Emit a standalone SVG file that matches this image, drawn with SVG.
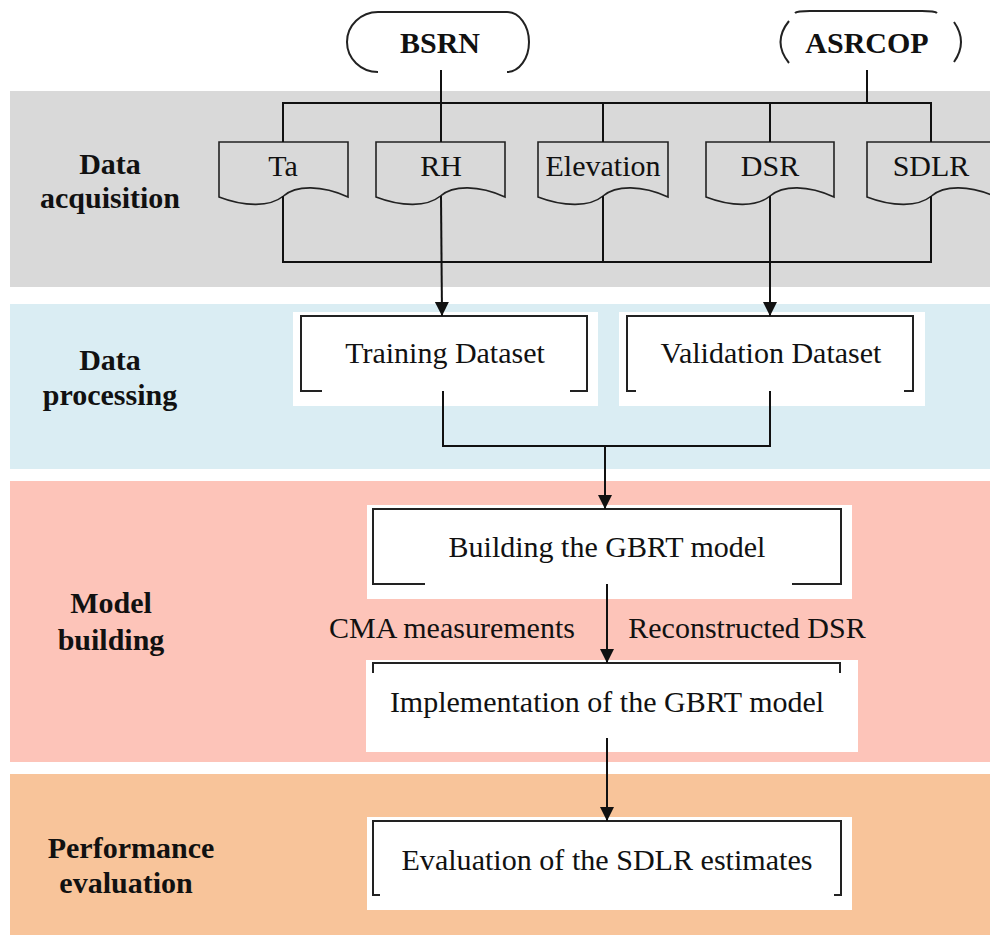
<svg xmlns="http://www.w3.org/2000/svg" width="990" height="935" viewBox="0 0 990 935">
<style>
.t{font-family:"Liberation Serif","Times New Roman",serif;font-size:30px;fill:#111;text-anchor:middle}
.b{font-weight:bold}
.doc{fill:#d9d9d9;stroke:#222;stroke-width:1.6}
.br{fill:none;stroke:#222;stroke-width:2}
.ln{fill:none;stroke:#111;stroke-width:2}
.wh{fill:#fff}
</style>
<defs>
<marker id="ah" markerUnits="userSpaceOnUse" markerWidth="14" markerHeight="16" refX="14" refY="7" orient="auto">
<path d="M0,0 L14,7 L0,14 Z" fill="#111"/>
</marker>
</defs>
<rect width="990" height="935" fill="#fff"/>
<g id="bands">
<rect x="10" y="91" width="980" height="196" fill="#d9d9d9"/>
<rect x="10" y="304" width="980" height="165" fill="#daedf3"/>
<rect x="10" y="481" width="980" height="281" fill="#fdc4b9"/>
<rect x="10" y="774" width="980" height="161" fill="#f8c49a"/>
<text class="t b" x="110" y="174">Data</text>
<text class="t b" x="110" y="208">acquisition</text>
<text class="t b" x="110" y="370">Data</text>
<text class="t b" x="110" y="405">processing</text>
<text class="t b" x="111" y="613">Model</text>
<text class="t b" x="111" y="650">building</text>
<text class="t b" x="131" y="858">Performance</text>
<text class="t b" x="126" y="893">evaluation</text>
</g>
<g id="bsrn">
<path class="br" d="M378,72 A31,30 0 0 1 378,12 H507 A22,30 0 0 1 507,72"/>
<text class="t b" x="440" y="53">BSRN</text>
</g>
<g id="asrcop">
<path class="br" d="M795,13 Q797,11 810,11 H922 Q935,11 937,13"/>
<path class="br" d="M789,21 Q772,42 789,63"/>
<path class="br" d="M954,22 Q968,42 954,62"/>
<text class="t b" x="867" y="53">ASRCOP</text>
</g>
<g id="ta">
<path class="doc" d="M219,142 H348 V197 C322,185 296,185 283.5,196 C270,207 245,207 219,197 Z"/>
<text class="t" x="283" y="176">Ta</text>
</g>
<g id="rh">
<path class="doc" d="M376,142 H505 V197 C479,185 453,185 440.5,196 C427,207 402,207 376,197 Z"/>
<text class="t" x="441" y="176">RH</text>
</g>
<g id="elevation">
<path class="doc" d="M538,142 H668 V197 C642,185 616,185 603,196 C590,207 564,207 538,197 Z"/>
<text class="t" x="603" y="176">Elevation</text>
</g>
<g id="dsr">
<path class="doc" d="M706,142 H834 V197 C808,185 783,185 770,196 C757,207 732,207 706,197 Z"/>
<text class="t" x="770" y="176">DSR</text>
</g>
<g id="sdlr">
<path class="doc" d="M867,142 H996 V197 C970,185 944,185 931.5,196 C918,207 893,207 867,197 Z"/>
<text class="t" x="931" y="176">SDLR</text>
</g>
<g id="training">
<rect class="wh" x="293" y="312" width="305" height="94"/>
<path class="br" d="M322,391 H301 V316 H587 V391 H570"/>
<text class="t" x="445" y="363">Training Dataset</text>
</g>
<g id="validation">
<rect class="wh" x="619" y="312" width="306" height="94"/>
<path class="br" d="M636,391 H627 V316 H913 V391 H904"/>
<text class="t" x="771" y="363">Validation Dataset</text>
</g>
<g id="building">
<rect class="wh" x="367" y="505" width="485" height="94"/>
<path class="br" d="M425,584 H373 V509 H841 V584 H792"/>
<text class="t" x="607" y="557">Building the GBRT model</text>
</g>
<g id="implementation">
<rect class="wh" x="366" y="660" width="492" height="92"/>
<path class="br" d="M373,673 V663 H840 V673"/>
<text class="t" x="607" y="712">Implementation of the GBRT model</text>
</g>
<g id="evaluation">
<rect class="wh" x="367" y="817" width="485" height="93"/>
<path class="br" d="M380,895 H373 V821 H841 V895 H834"/>
<text class="t" x="607" y="870" style="font-size:29.5px" textLength="411" lengthAdjust="spacingAndGlyphs">Evaluation of the SDLR estimates</text>
</g>
<g id="connectors">
<path class="ln" d="M441,70 V142"/>
<path class="ln" d="M867,70 V103"/>
<path class="ln" d="M283,142 V103 H931 V142"/>
<path class="ln" d="M603,103 V142"/>
<path class="ln" d="M770,103 V142"/>
<path class="ln" d="M283,196 V262 H931 V196"/>
<path class="ln" d="M603,196 V262"/>
<path class="ln" d="M441,196 L442,316" marker-end="url(#ah)"/>
<path class="ln" d="M770,196 V316" marker-end="url(#ah)"/>
<path class="ln" d="M443,391 V446 H770 V391"/>
<path class="ln" d="M605,446 V509" marker-end="url(#ah)"/>
<path class="ln" d="M607,584 V663" marker-end="url(#ah)"/>
<path class="ln" d="M607,738 V821" marker-end="url(#ah)"/>
<text class="t" x="452" y="638">CMA measurements</text>
<text class="t" x="747" y="638">Reconstructed DSR</text>
</g>
</svg>
